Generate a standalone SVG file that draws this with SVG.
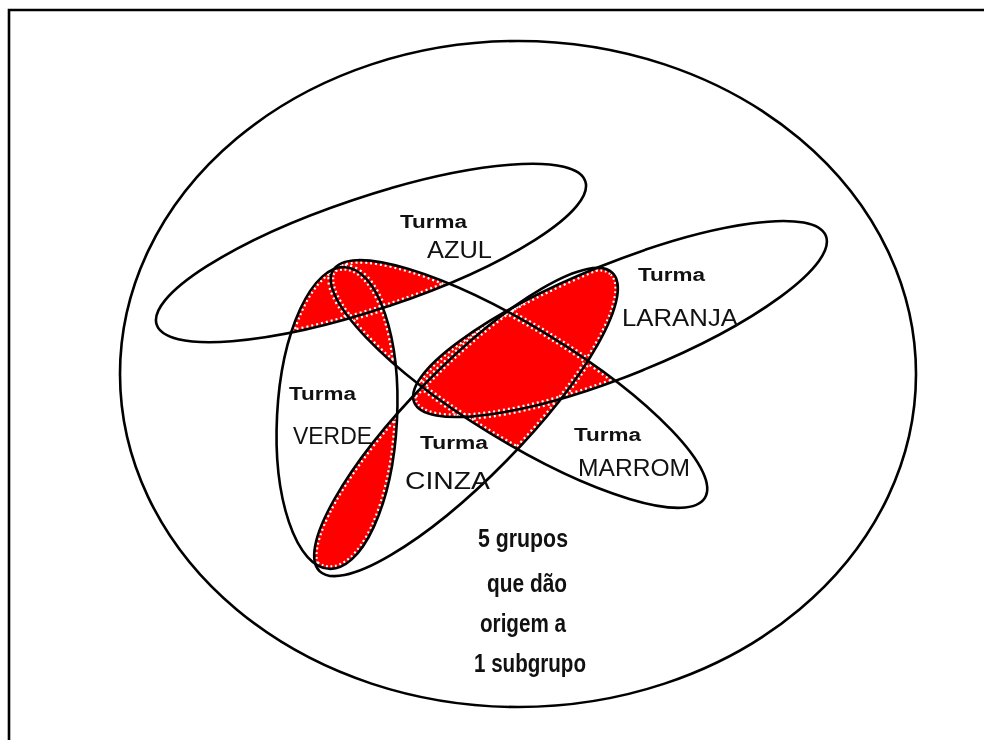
<svg xmlns="http://www.w3.org/2000/svg" xmlns:xlink="http://www.w3.org/1999/xlink" width="984" height="740" viewBox="0 0 984 740">
<style>
.line{fill:none;stroke:#000;stroke-width:2.6}
.red{fill:#ff0000;stroke:none}
.dash{fill:none;stroke:#fff;stroke-width:7;stroke-dasharray:2 3}
.turma{font-family:"Liberation Sans",Arial,sans-serif;font-weight:bold;font-size:18px;fill:#111}
.nome{font-family:"Liberation Sans",Arial,sans-serif;font-size:24px;fill:#111}
.leg{font-family:"Liberation Sans",Arial,sans-serif;font-weight:bold;font-size:25px;fill:#111}
</style>
<defs>
<ellipse id="sAzul" cx="0" cy="0" rx="226" ry="56" transform="translate(371,253) rotate(-18.5)"/>
<ellipse id="sLaranja" cx="0" cy="0" rx="222" ry="56" transform="translate(620,319) rotate(-22)"/>
<ellipse id="sVerde" cx="0" cy="0" rx="60" ry="151" transform="translate(337,418) rotate(3)"/>
<ellipse id="sCinza" cx="0" cy="0" rx="209" ry="56" transform="translate(466,422) rotate(-45.5)"/>
<ellipse id="sMarrom" cx="0" cy="0" rx="218" ry="57" transform="translate(519,384) rotate(31.5)"/>
<clipPath id="cAzul"><use xlink:href="#sAzul"/></clipPath>
<clipPath id="cLaranja"><use xlink:href="#sLaranja"/></clipPath>
<clipPath id="cVerde"><use xlink:href="#sVerde"/></clipPath>
<clipPath id="cCinza"><use xlink:href="#sCinza"/></clipPath>
<clipPath id="cMarrom"><use xlink:href="#sMarrom"/></clipPath>
<g id="overlaps">
<use xlink:href="#sAzul" clip-path="url(#cLaranja)"/>
<use xlink:href="#sAzul" clip-path="url(#cVerde)"/>
<use xlink:href="#sAzul" clip-path="url(#cCinza)"/>
<use xlink:href="#sAzul" clip-path="url(#cMarrom)"/>
<use xlink:href="#sLaranja" clip-path="url(#cVerde)"/>
<use xlink:href="#sLaranja" clip-path="url(#cCinza)"/>
<use xlink:href="#sLaranja" clip-path="url(#cMarrom)"/>
<use xlink:href="#sVerde" clip-path="url(#cCinza)"/>
<use xlink:href="#sVerde" clip-path="url(#cMarrom)"/>
<use xlink:href="#sCinza" clip-path="url(#cMarrom)"/>
</g>
<mask id="mRed" maskUnits="userSpaceOnUse" x="0" y="0" width="984" height="740">
<rect x="0" y="0" width="984" height="740" fill="#000"/>
<use xlink:href="#overlaps" fill="#fff"/>
</mask>
</defs>

<g id="moldura">
<path class="line" d="M9,740 V10 H984" stroke-width="3"/>
</g>

<g id="universo">
<ellipse class="line" cx="518" cy="374" rx="398" ry="333"/>
</g>

<g id="intersecoes">
<use xlink:href="#overlaps" class="red"/>
<g mask="url(#mRed)">
<use xlink:href="#sAzul" class="dash"/>
<use xlink:href="#sLaranja" class="dash"/>
<use xlink:href="#sVerde" class="dash"/>
<use xlink:href="#sCinza" class="dash"/>
<use xlink:href="#sMarrom" class="dash"/>
</g>
</g>

<g id="turma-azul">
<use xlink:href="#sAzul" class="line"/>
<text class="turma" x="400" y="228" textLength="67" lengthAdjust="spacingAndGlyphs">Turma</text>
<text class="nome" x="427" y="258" textLength="65" lengthAdjust="spacingAndGlyphs">AZUL</text>
</g>

<g id="turma-laranja">
<use xlink:href="#sLaranja" class="line"/>
<text class="turma" x="638" y="281" textLength="67" lengthAdjust="spacingAndGlyphs">Turma</text>
<text class="nome" x="622" y="326" textLength="116" lengthAdjust="spacingAndGlyphs">LARANJA</text>
</g>

<g id="turma-verde">
<use xlink:href="#sVerde" class="line"/>
<text class="turma" x="289" y="400" textLength="67" lengthAdjust="spacingAndGlyphs">Turma</text>
<text class="nome" x="293" y="444" textLength="79" lengthAdjust="spacingAndGlyphs">VERDE</text>
</g>

<g id="turma-cinza">
<use xlink:href="#sCinza" class="line"/>
<text class="turma" x="420" y="449" textLength="68" lengthAdjust="spacingAndGlyphs">Turma</text>
<text class="nome" x="405" y="489" textLength="85" lengthAdjust="spacingAndGlyphs">CINZA</text>
</g>

<g id="turma-marrom">
<use xlink:href="#sMarrom" class="line"/>
<text class="turma" x="574" y="441" textLength="67" lengthAdjust="spacingAndGlyphs">Turma</text>
<text class="nome" x="578" y="476" textLength="112" lengthAdjust="spacingAndGlyphs">MARROM</text>
</g>

<g id="legenda">
<text class="leg" x="478" y="547" textLength="90" lengthAdjust="spacingAndGlyphs">5 grupos</text>
<text class="leg" x="487" y="592" textLength="80" lengthAdjust="spacingAndGlyphs">que dão</text>
<text class="leg" x="480" y="632" textLength="86" lengthAdjust="spacingAndGlyphs">origem a</text>
<text class="leg" x="474" y="672" textLength="112" lengthAdjust="spacingAndGlyphs">1 subgrupo</text>
</g>
</svg>
